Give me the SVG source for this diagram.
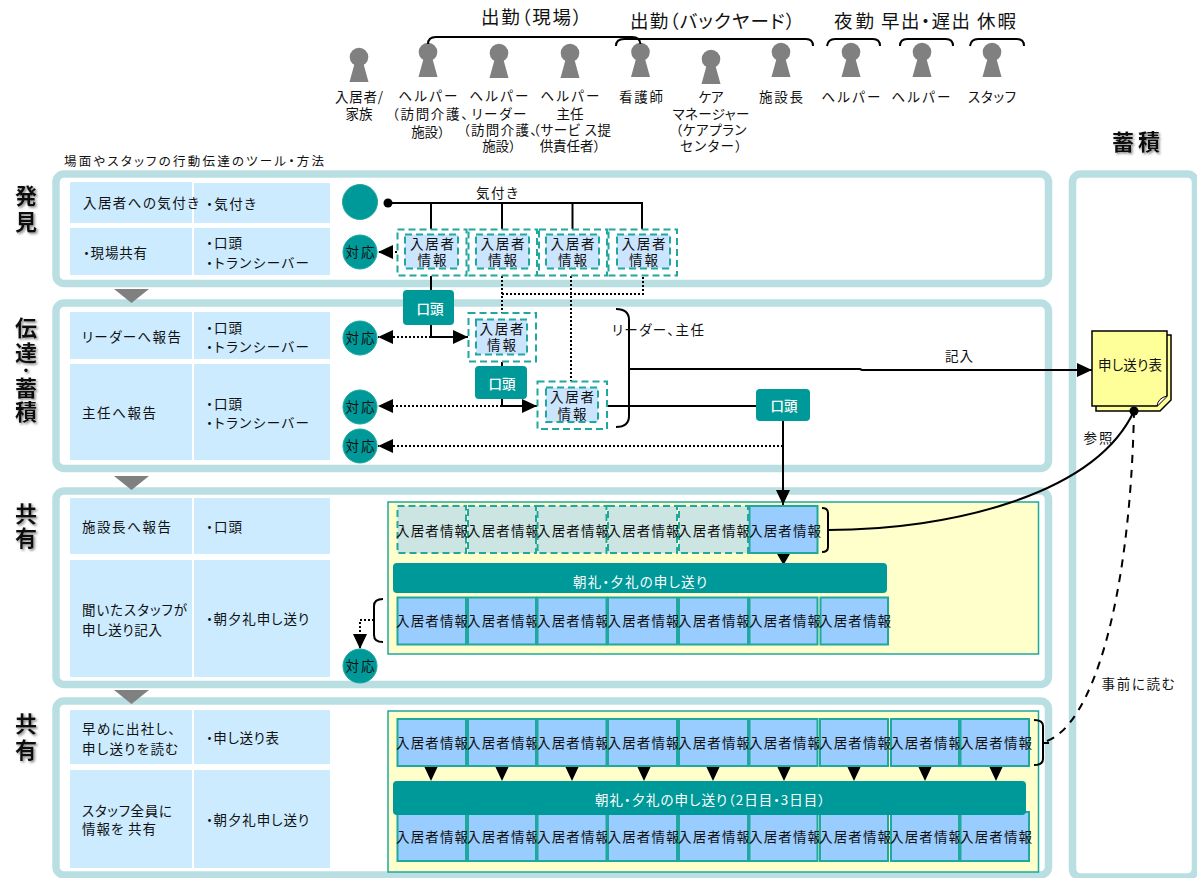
<svg xmlns="http://www.w3.org/2000/svg" width="1197" height="878" viewBox="0 0 1197 878">
<style>
text{font-family:"Noto Sans CJK JP","Liberation Sans",sans-serif;font-size:13.5px;fill:#111;dominant-baseline:central;font-feature-settings:"palt";transform:translateY(-1.5px)}
.m{text-anchor:middle}
.hd{font-size:18.5px}
.big{font-size:22px;font-weight:700;text-anchor:middle;filter:url(#sh)}
.w{fill:#fff}
.b{font-weight:500}
.panel{fill:none;stroke:#B9DFE2;stroke-width:7.5}
.cell{fill:#CCEBFF}
.teal{fill:#009999}
.circ{fill:#009999;stroke:#1fa89e}
.dash{fill:#fff;stroke:#1FA89E;stroke-width:2;stroke-dasharray:7 4}
.dashin{fill:#CCE5FF;stroke:#1FA89E;stroke-width:2;stroke-dasharray:7 4}
.ghost{fill:#CCE5E2;stroke:#1FA89E;stroke-width:2;stroke-dasharray:7 4}
.solid{fill:#99CCFF;stroke:#1FA89E;stroke-width:2}
.yel{fill:#FFFFCC;stroke:#1FA89E;stroke-width:1.5}
.ln{fill:none;stroke:#000;stroke-width:2}
.dot{fill:none;stroke:#000;stroke-width:2;stroke-dasharray:2 2}
.dsh{fill:none;stroke:#000;stroke-width:2;stroke-dasharray:8 7}
.gray{fill:#808080}
.tip{fill:#000}
</style>
<defs>
<filter id="sh" x="-30%" y="-30%" width="170%" height="170%"><feDropShadow dx="1.5" dy="1.5" stdDeviation="1.2" flood-color="#888"/></filter>
<g id="person"><circle cx="0" cy="0" r="9.3"/><path d="M-4,5 L4,5 L9.5,25 L-9.5,25 Z"/></g>
<marker id="ah" markerUnits="userSpaceOnUse" markerWidth="15" markerHeight="14" refX="15" refY="7" orient="auto"><path d="M0,0 L15,7 L0,14 Z"/></marker>
</defs>

<g id="headers">
<text class="hd" x="481" y="17" textLength="101">出勤（現場）</text>
<text class="hd" x="630" y="21" textLength="165">出勤（バックヤード）</text>
<text class="hd" x="834" y="21" textLength="40">夜勤</text>
<text class="hd" x="881" y="21" textLength="89">早出・遅出</text>
<text class="hd" x="977" y="21" textLength="39">休暇</text>
<text class="big" x="1136" y="141" textLength="48">蓄積</text>
<text x="64" y="162" textLength="260" style="font-size:12.5px">場面やスタッフの行動伝達のツール・方法</text>
<text class="big" x="26" y="195">発</text><text class="big" x="26" y="221">見</text>
<text class="big" x="26" y="327">伝</text><text class="big" x="26" y="352">達</text><text class="big" x="26" y="370" style="font-size:14px;font-feature-settings:normal">・</text><text class="big" x="26" y="387">蓄</text><text class="big" x="26" y="411">積</text>
<text class="big" x="26" y="513">共</text><text class="big" x="26" y="537">有</text>
<text class="big" x="26" y="723">共</text><text class="big" x="26" y="749">有</text>
</g>

<g id="panels">
<rect class="panel" x="56" y="174" width="992.5" height="109.5" rx="8"/>
<rect class="panel" x="56" y="303" width="992.5" height="165.5" rx="8"/>
<rect class="panel" x="56" y="491" width="992.5" height="193.5" rx="8"/>
<rect class="panel" x="56" y="701" width="992.5" height="174" rx="8"/>
<rect class="panel" x="1072.5" y="174" width="123" height="703" rx="8"/>
<path class="gray" d="M114,289 H149 L131.500,303 Z"/>
<path class="gray" d="M114,476 H149 L131.500,490 Z"/>
<path class="gray" d="M114,690 H149 L131.500,704 Z"/>
</g>

<g id="table">
<rect class="cell" x="70" y="182" width="122" height="41"/><rect class="cell" x="194" y="183" width="136" height="40"/>
<rect class="cell" x="70" y="228" width="122" height="47"/><rect class="cell" x="194" y="228" width="136" height="47"/>
<rect class="cell" x="70" y="312" width="122" height="47"/><rect class="cell" x="194" y="312" width="136" height="47"/>
<rect class="cell" x="70" y="364" width="122" height="96"/><rect class="cell" x="194" y="364" width="136" height="96"/>
<rect class="cell" x="70" y="498" width="122" height="56"/><rect class="cell" x="194" y="498" width="136" height="56"/>
<rect class="cell" x="70" y="560" width="122" height="117"/><rect class="cell" x="194" y="560" width="136" height="117"/>
<rect class="cell" x="70" y="710" width="122" height="54"/><rect class="cell" x="194" y="710" width="136" height="54"/>
<rect class="cell" x="70" y="770" width="122" height="98"/><rect class="cell" x="194" y="770" width="136" height="98"/>
<text x="83" y="203" textLength="116">入居者への気付き</text><text x="206" y="204" textLength="50">・気付き</text>
<text x="83" y="253" textLength="64">・現場共有</text><text x="206" y="243" textLength="36">・口頭</text><text x="206" y="263" textLength="103">・トランシーバー</text>
<text x="82" y="337" textLength="99">リーダーへ報告</text><text x="206" y="328" textLength="36">・口頭</text><text x="206" y="347" textLength="103">・トランシーバー</text>
<text x="82" y="413" textLength="74">主任へ報告</text><text x="206" y="404" textLength="36">・口頭</text><text x="206" y="423" textLength="103">・トランシーバー</text>
<text x="82" y="527" textLength="89">施設長へ報告</text><text x="206" y="527" textLength="36">・口頭</text>
<text x="82" y="610" textLength="105">聞いたスタッフが</text><text x="82" y="630" textLength="80">申し送り記入</text><text x="206" y="619" textLength="103">・朝夕礼申し送り</text>
<text x="82" y="729" textLength="93">早めに出社し、</text><text x="82" y="749" textLength="96">申し送りを読む</text><text x="206" y="738" textLength="73">・申し送り表</text>
<text x="82" y="811" textLength="90">スタッフ全員に</text><text x="82" y="829" textLength="74">情報を 共有</text><text x="206" y="820" textLength="103">・朝夕礼申し送り</text>
</g>

<g id="people" class="gray">
<use href="#person" x="359" y="57"/><use href="#person" x="428" y="52"/><use href="#person" x="499" y="53"/><use href="#person" x="570" y="53"/><use href="#person" x="640.500" y="52"/><use href="#person" x="711" y="59"/><use href="#person" x="781" y="52"/><use href="#person" x="851" y="52"/><use href="#person" x="922" y="52"/><use href="#person" x="992" y="52"/>
</g>
<g id="people-labels">
<text class="m" x="359" y="97" textLength="48">入居者/</text><text class="m" x="359" y="114">家族</text>
<text class="m" x="428" y="96" textLength="59">ヘルパー</text><text x="392" y="114" textLength="76">（訪問介護、</text><text class="m" x="428" y="132">施設）</text>
<text class="m" x="499" y="96" textLength="59">ヘルパー</text><text class="m" x="499" y="114" textLength="55">リーダー</text><text x="463" y="130" textLength="74">（訪問介護、</text><text class="m" x="499" y="146">施設）</text>
<text class="m" x="570" y="96" textLength="59">ヘルパー</text><text class="m" x="570" y="114">主任</text><text x="533" y="130" textLength="78">（サービ ス提</text><text class="m" x="570" y="146">供責任者）</text>
<text class="m" x="641" y="97" textLength="44">看護師</text>
<text class="m" x="711" y="97">ケア</text><text class="m" x="711" y="114" textLength="77">マネージャー</text><text class="m" x="711" y="130" textLength="71">（ケアプラン</text><text class="m" x="711" y="146" textLength="62">センター）</text>
<text class="m" x="781" y="97" textLength="44">施設長</text><text class="m" x="851" y="97" textLength="59">ヘルパー</text><text class="m" x="921" y="97" textLength="59">ヘルパー</text><text class="m" x="992" y="97" textLength="48">スタッフ</text>
</g>

<g id="yellow-areas">
<rect class="yel" x="388" y="502" width="650.500" height="152"/>
<rect class="yel" x="388" y="711" width="650.500" height="161"/>
</g>

<g id="sheet">
<path d="M1096,335 H1171 V400 L1160,411 H1096 Z" fill="#FFFF99" stroke="#000" stroke-width="1.500"/>
<path d="M1092,331 H1167 V396 L1157,406 H1092 Z" fill="#FFFF99" stroke="#000" stroke-width="1.500"/>
<path d="M1157,406 Q1158,398 1167,396" fill="#fff" stroke="#000"/>
<text class="m" x="1130" y="365" textLength="64">申し送り表</text>
</g>

<g id="connectors">
<path class="ln" d="M428,44 Q428,37 436,37 H632 Q640,37 640.500,44"/>
<path class="ln" d="M616,46 Q616,39 624,39 H806 Q813,39 813,46"/>
<path class="ln" d="M827,46 Q828,39 835,39 H873 Q880,39 880,46"/>
<path class="ln" d="M900,46 Q900,39 907,39 H946 Q953,39 953,46"/>
<path class="ln" d="M970,46 Q971,39 978,39 H1017 Q1024,39 1024,46"/>
<path class="ln" d="M388,203 H642 V229 M431,203 V229 M502,203 V229 M572.500,203 V229"/>
<circle class="tip" cx="388" cy="203" r="4.500"/>
<path class="ln" d="M431,276 V337 H468" marker-end="url(#ah)"/>
<path class="ln" d="M502,362 V406 H537" marker-end="url(#ah)"/>
<path class="dot" d="M397,252 H378" marker-end="url(#ah)"/>
<path class="dot" d="M431,325 V337 H378" marker-end="url(#ah)"/>
<path class="dot" d="M502,406 H378" marker-end="url(#ah)"/>
<path class="dot" d="M783,446 H378" marker-end="url(#ah)"/>
<path class="dot" d="M502,276 V313 M502,294 H643 V276"/>
<path class="dot" d="M571,276 V381"/>
<path class="ln" d="M616,309 Q629,309 629,320 V416 Q629,427 616,427"/>
<path class="ln" d="M629,369 H860 L862,370 H1092" marker-end="url(#ah)"/>
<path class="ln" d="M607,406 H756"/>
<path class="ln" d="M783,421 V505" marker-end="url(#ah)"/>
<path class="ln" d="M822,508 Q828,508 828,513 V547 Q828,552 822,552 M828,530 C950,530 1095,495 1134,411"/>
<path class="dsh" d="M1047,741 C1090,725 1130,610 1134,411"/>
<path class="ln" d="M1034,720 Q1043,720 1043,726 V759 Q1043,765 1034,765 M1043,743 H1049"/>
<circle class="tip" cx="1134" cy="411" r="4.500"/>
<path class="ln" d="M383,599 Q374,599 374,606 V635 Q374,642 383,642"/>
<path class="dot" d="M374,620 H360 V649" marker-end="url(#ah)"/>
<path class="tip" d="M776.500,553 H790.500 L783.500,565 Z"/>
<path class="tip" d="M424,766 H438 L431,781 Z M495,766 H509 L502,781 Z M565,766 H579 L572,781 Z M637,766 H651 L644,781 Z M706,766 H720 L713,781 Z M777,766 H791 L784,781 Z M847,766 H861 L854,781 Z M918,766 H932 L925,781 Z M989,766 H1003 L996,781 Z"/>
</g>

<g id="discovery-start"><circle class="circ" cx="360" cy="202" r="17.500"/></g>
<g id="taio-1"><circle class="circ" cx="360" cy="252" r="17"/><text class="m" x="360" y="252" textLength="29">対応</text></g>
<g id="taio-2"><circle class="circ" cx="360" cy="338" r="17"/><text class="m" x="360" y="338" textLength="29">対応</text></g>
<g id="taio-3"><circle class="circ" cx="360" cy="407" r="17"/><text class="m" x="360" y="407" textLength="29">対応</text></g>
<g id="taio-4"><circle class="circ" cx="360" cy="446" r="17"/><text class="m" x="360" y="446" textLength="29">対応</text></g>
<g id="taio-5"><circle class="circ" cx="360" cy="666" r="17"/><text class="m" x="360" y="666" textLength="29">対応</text></g>

<g id="info-1"><rect class="dash" x="397.500" y="229.500" width="69" height="46"/><rect class="dashin" x="405" y="234.500" width="53" height="34"/><text class="m" x="432" y="244" textLength="44">入居者</text><text class="m" x="432" y="260" textLength="29">情報</text></g>
<g id="info-2"><rect class="dash" x="468.500" y="229.500" width="68.500" height="46"/><rect class="dashin" x="476" y="234.500" width="53" height="34"/><text class="m" x="502.500" y="244" textLength="44">入居者</text><text class="m" x="502.500" y="260" textLength="29">情報</text></g>
<g id="info-3"><rect class="dash" x="539" y="229.500" width="68" height="46"/><rect class="dashin" x="546" y="234.500" width="53" height="34"/><text class="m" x="572.500" y="244" textLength="44">入居者</text><text class="m" x="572.500" y="260" textLength="29">情報</text></g>
<g id="info-4"><rect class="dash" x="608.500" y="229.500" width="68.500" height="46"/><rect class="dashin" x="617" y="234.500" width="53" height="34"/><text class="m" x="643.500" y="244" textLength="44">入居者</text><text class="m" x="643.500" y="260" textLength="29">情報</text></g>
<g id="info-5"><rect class="dash" x="468.500" y="313" width="67.500" height="48.500"/><rect class="dashin" x="476" y="319.500" width="51" height="35"/><text class="m" x="501.500" y="329" textLength="44">入居者</text><text class="m" x="501.500" y="345" textLength="29">情報</text></g>
<g id="info-6"><rect class="dash" x="537.500" y="381.500" width="69.500" height="47.500"/><rect class="dashin" x="546" y="387.500" width="52" height="34.500"/><text class="m" x="572" y="397" textLength="44">入居者</text><text class="m" x="572" y="414" textLength="29">情報</text></g>

<g id="kotou-1"><rect class="teal" x="403" y="290" width="51" height="35" rx="4"/><text class="m w b" x="430" y="309" textLength="27">口頭</text></g>
<g id="kotou-2"><rect class="teal" x="475" y="366" width="52" height="33" rx="4"/><text class="m w b" x="502" y="384" textLength="27">口頭</text></g>
<g id="kotou-3"><rect class="teal" x="756" y="389" width="54" height="32" rx="4"/><text class="m w b" x="784" y="406" textLength="27">口頭</text></g>

<g id="share-row-1">
<rect class="ghost" x="397.500" y="506" width="68.500" height="47"/><text class="m" x="432" y="531" textLength="72">入居者情報</text>
<rect class="ghost" x="468" y="506" width="68" height="47"/><text class="m" x="503" y="531" textLength="72">入居者情報</text>
<rect class="ghost" x="537.500" y="506" width="69" height="47"/><text class="m" x="573" y="531" textLength="72">入居者情報</text>
<rect class="ghost" x="608" y="506" width="69" height="47"/><text class="m" x="643.500" y="531" textLength="72">入居者情報</text>
<rect class="ghost" x="679" y="506" width="69" height="47"/><text class="m" x="714" y="531" textLength="72">入居者情報</text>
<rect class="solid" x="749.500" y="506" width="68" height="47"/><text class="m" x="785" y="531" textLength="72">入居者情報</text>
</g>
<g id="share-bar-1"><rect class="teal" x="393" y="563" width="494" height="30" rx="4"/><text class="m w" x="640" y="582" textLength="134">朝礼・夕礼の申し送り</text></g>
<g id="share-row-2">
<rect class="solid" x="397.500" y="597.500" width="68.500" height="47"/><text class="m" x="432" y="621" textLength="72">入居者情報</text>
<rect class="solid" x="468" y="597.500" width="68" height="47"/><text class="m" x="503" y="621" textLength="72">入居者情報</text>
<rect class="solid" x="537.500" y="597.500" width="69" height="47"/><text class="m" x="573" y="621" textLength="72">入居者情報</text>
<rect class="solid" x="608" y="597.500" width="69" height="47"/><text class="m" x="643.500" y="621" textLength="72">入居者情報</text>
<rect class="solid" x="679" y="597.500" width="69" height="47"/><text class="m" x="714" y="621" textLength="72">入居者情報</text>
<rect class="solid" x="749.500" y="597.500" width="68" height="47"/><text class="m" x="785" y="621" textLength="72">入居者情報</text>
<rect class="solid" x="820.500" y="597.500" width="67.500" height="47"/><text class="m" x="855" y="621" textLength="72">入居者情報</text>
</g>

<g id="day-row-1">
<rect class="solid" x="397.500" y="719" width="68.500" height="47"/><text class="m" x="432" y="743" textLength="72">入居者情報</text>
<rect class="solid" x="468" y="719" width="68" height="47"/><text class="m" x="503" y="743" textLength="72">入居者情報</text>
<rect class="solid" x="537.500" y="719" width="69" height="47"/><text class="m" x="573" y="743" textLength="72">入居者情報</text>
<rect class="solid" x="608" y="719" width="69" height="47"/><text class="m" x="643.500" y="743" textLength="72">入居者情報</text>
<rect class="solid" x="679" y="719" width="69" height="47"/><text class="m" x="714" y="743" textLength="72">入居者情報</text>
<rect class="solid" x="749.500" y="719" width="68" height="47"/><text class="m" x="785" y="743" textLength="72">入居者情報</text>
<rect class="solid" x="820" y="719" width="68" height="47"/><text class="m" x="855" y="743" textLength="72">入居者情報</text>
<rect class="solid" x="891" y="719" width="68" height="47"/><text class="m" x="926" y="743" textLength="72">入居者情報</text>
<rect class="solid" x="960.500" y="719" width="68.500" height="47"/><text class="m" x="996" y="743" textLength="72">入居者情報</text>
</g>
<g id="day-row-2">
<rect class="solid" x="397.500" y="812" width="68.500" height="49"/><text class="m" x="432" y="837" textLength="72">入居者情報</text>
<rect class="solid" x="468" y="812" width="68" height="49"/><text class="m" x="503" y="837" textLength="72">入居者情報</text>
<rect class="solid" x="537.500" y="812" width="69" height="49"/><text class="m" x="573" y="837" textLength="72">入居者情報</text>
<rect class="solid" x="608" y="812" width="69" height="49"/><text class="m" x="643.500" y="837" textLength="72">入居者情報</text>
<rect class="solid" x="679" y="812" width="69" height="49"/><text class="m" x="714" y="837" textLength="72">入居者情報</text>
<rect class="solid" x="749.500" y="812" width="68" height="49"/><text class="m" x="785" y="837" textLength="72">入居者情報</text>
<rect class="solid" x="820" y="812" width="68" height="49"/><text class="m" x="855" y="837" textLength="72">入居者情報</text>
<rect class="solid" x="891" y="812" width="68" height="49"/><text class="m" x="926" y="837" textLength="72">入居者情報</text>
<rect class="solid" x="960.500" y="812" width="68.500" height="49"/><text class="m" x="996" y="837" textLength="72">入居者情報</text>
</g>
<g id="day-bar"><rect class="teal" x="393" y="781" width="633" height="34" rx="4"/><text class="m w" x="710" y="800" textLength="230">朝礼・夕礼の申し送り（2日目・3日目）</text></g>

<g id="edge-labels">
<text class="m" x="497" y="193" textLength="42">気付き</text>
<text x="612" y="330" textLength="92">リーダー、主任</text>
<text class="m" x="959" y="356" textLength="28">記入</text>
<text class="m" x="1098" y="438" textLength="29">参照</text>
<text class="m" x="1138" y="684" textLength="73">事前に読む</text>
</g>
</svg>
